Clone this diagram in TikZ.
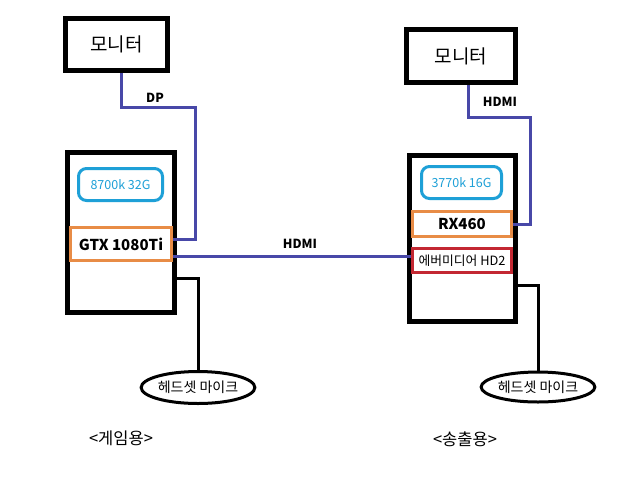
\documentclass[tikz,border=0pt]{standalone}
\usepackage{fontspec}
\setmainfont{Noto Sans CJK KR}
\usetikzlibrary{shapes.geometric}
\definecolor{cablec}{RGB}{72,72,168}
\definecolor{memc}{RGB}{30,160,215}
\definecolor{gpuc}{RGB}{232,140,70}
\definecolor{capc}{RGB}{195,40,50}
\tikzset{
  blackbox/.style={draw=black, line width=5pt, inner sep=0pt},
  membox/.style={draw=memc, line width=3pt, rounded corners=8pt, text=memc, font=\fontsize{12.5}{14}\selectfont, inner sep=0pt},
  gpubox/.style={draw=gpuc, line width=3pt, inner sep=0pt, font=\bfseries\fontsize{15}{17}\selectfont},
  capbox/.style={draw=capc, line width=3pt, inner sep=0pt, font=\fontsize{12.8}{14}\selectfont},
  headset/.style={ellipse, draw=black, line width=3pt, inner sep=0pt, font=\fontsize{14}{16}\selectfont},
  cable/.style={draw=cablec, line width=3pt},
  wire/.style={draw=black, line width=3pt},
  cablelabel/.style={font=\bfseries\fontsize{12.5}{14}\selectfont, inner sep=0pt},
  caption/.style={font=\fontsize{16.5}{18}\selectfont, inner sep=0pt},
  montext/.style={font=\fontsize{19}{21}\selectfont}
}
\begin{document}
\begin{tikzpicture}[x=1pt,y=-1pt]
\useasboundingbox[fill=white] (0,0) rectangle (626,480);
% left side
\node[blackbox, montext, minimum width=102pt, minimum height=52pt] (lmon) at (116.5,44.5) {모니터};
\node[blackbox, minimum width=107pt, minimum height=160pt] (lpc) at (121,232.5) {};
\node[membox, minimum width=84pt, minimum height=32pt] (lmem) at (120.5,184.5) {8700k 32G};
\node[gpubox, fill=white, minimum width=101pt, minimum height=33pt] (gtx) at (121,244) {GTX 1080Ti};
\node[headset, minimum width=107pt, minimum height=32pt] (lhead) at (198,387.5) {헤드셋 마이크};
% right side
\node[blackbox, montext, minimum width=109pt, minimum height=53pt] (rmon) at (461,56) {모니터};
\node[blackbox, minimum width=106pt, minimum height=166pt] (rpc) at (462.5,238.5) {};
\node[membox, minimum width=80pt, minimum height=32pt] (rmem) at (461.5,182.5) {3770k 16G};
\node[gpubox, fill=white, minimum width=99pt, minimum height=25pt] (rx) at (462,224) {RX460};
\node[capbox, fill=white, minimum width=99pt, minimum height=24pt] (ever) at (462,260.5) {에버미디어 HD2};
\node[headset, minimum width=107pt, minimum height=30pt] (rhead) at (538,387) {헤드셋 마이크};
% cables
\draw[cable] ([xshift=4.5pt]lmon.south) |- (195,107) |- ([yshift=5pt]gtx.east);
\coordinate (h1) at ([yshift=-12pt]gtx.east);
\draw[cable] (h1) -- (h1 -| ever.west);
\draw[cable] ([xshift=7pt]rmon.south) |- (530,117) |- (rx.east);
\draw[wire] ([yshift=-45.5pt]lpc.east) -| (lhead.north);
\draw[wire] ([yshift=-46.5pt]rpc.east) -| (rhead.north);
% labels
\node[cablelabel] (ldp) at (155,98) {DP};
\node[cablelabel] (mhdmi) at (300,244) {HDMI};
\node[cablelabel] (rhdmi) at (500,102) {HDMI};
\node[caption] (lcap) at (121,438) {<게임용>};
\node[caption] (rcap) at (465,439) {<송출용>};
\end{tikzpicture}
\end{document}
